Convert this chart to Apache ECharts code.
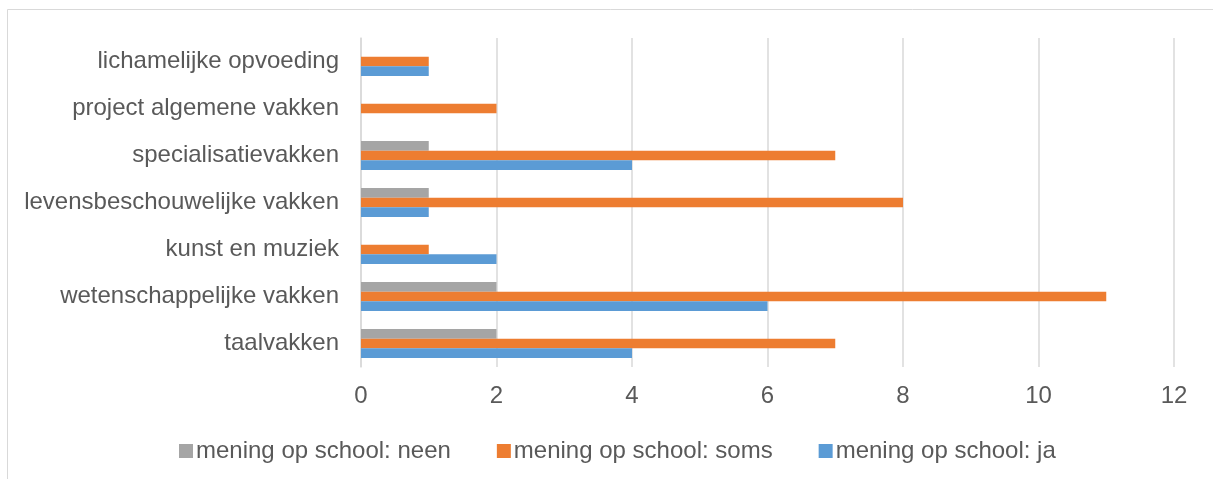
<!DOCTYPE html>
<html>
<head>
<meta charset="utf-8">
<script src="https://cdn.jsdelivr.net/npm/echarts@6/dist/echarts.min.js"></script>
<style>
html,body{margin:0;padding:0;background:#fff;}
#c{width:1213px;height:479px;}
</style>
</head>
<body>
<div id="c"></div>
<script>
const categories = ['taalvakken','wetenschappelijke vakken','kunst en muziek','levensbeschouwelijke vakken','specialisatievakken','project algemene vakken','lichamelijke opvoeding'];
const neen = [2, 2, 0, 1, 1, 0, 0];
const soms = [7, 11, 1, 8, 7, 2, 1];
const ja = [4, 6, 2, 1, 4, 0, 1];
const xTicks = [0, 2, 4, 6, 8, 10, 12];

const font = '"Liberation Sans", Arial, sans-serif';
const textColor = '#595959';
const fs = 24;
const chart = echarts.init(document.getElementById('c'), null, {renderer:'canvas'});
chart.setOption({
  animation: false,
  backgroundColor: '#fff',
  textStyle: {fontFamily: font},
  graphic: [{
    type: 'rect', silent: true, z: -1,
    shape: {x: 7.5, y: 9.5, width: 1400, height: 700},
    style: {fill: 'none', stroke: '#d9d9d9', lineWidth: 1}
  }],
  legend: {
    left: 174, top: 434,
    itemWidth: 14, itemHeight: 14, itemGap: 46,
    icon: 'rect',
    data: ['mening op school: neen','mening op school: soms','mening op school: ja'],
    textStyle: {color: textColor, fontSize: fs, fontFamily: font, padding: [0,0,0,-2]}
  },
  grid: {left: 361, right: 39, top: 38, bottom: 112, containLabel: false},
  xAxis: {
    type: 'value', min: xTicks[0], max: xTicks[xTicks.length-1], interval: 2,
    axisLine: {show: false}, axisTick: {show: false},
    axisLabel: {color: textColor, fontSize: fs, fontFamily: font, margin: 17},
    splitLine: {show: true, lineStyle: {color: '#d9d9d9', width: 1.5}}
  },
  yAxis: {
    type: 'category', data: categories,
    axisLine: {show: true, lineStyle: {color: '#d9d9d9', width: 1.5}},
    axisTick: {show: false},
    axisLabel: {color: textColor, fontSize: fs, fontFamily: font, margin: 22}
  },
  series: [
    {name: 'mening op school: neen', type: 'bar', data: neen, barGap: '0%', barCategoryGap: '38%', itemStyle: {color: '#a5a5a5'}},
    {name: 'mening op school: soms', type: 'bar', data: soms, barGap: '0%', barCategoryGap: '38%', itemStyle: {color: '#ed7d31'}},
    {name: 'mening op school: ja', type: 'bar', data: ja, barGap: '0%', barCategoryGap: '38%', itemStyle: {color: '#5b9bd5'}}
  ]
});
</script>
</body>
</html>
